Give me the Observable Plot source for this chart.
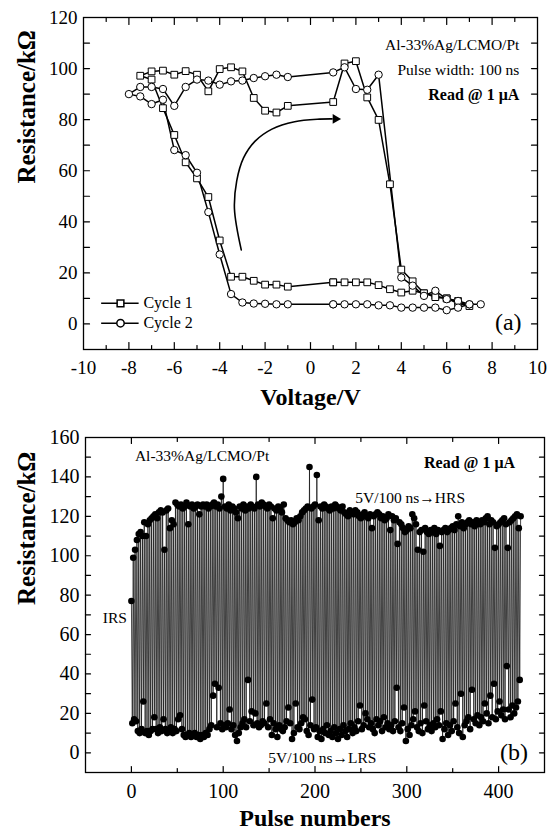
<!DOCTYPE html>
<html><head><meta charset="utf-8">
<script src="https://cdn.jsdelivr.net/npm/d3@7"></script>
<script src="https://cdn.jsdelivr.net/npm/@observablehq/plot@0.6"></script>
<style>
body{margin:0;background:#fff;}
#chart{width:555px;}
#chart svg{display:block;}
</style></head><body><div id="chart"></div>
<script>
// ---------- Panel (a): R–V hysteresis ----------
const cycle1V = [1, -1, -1.5, -2, -2.5, -3, -3.5, -4, -4.5, -5, -5.5, -6, -6.5, -7, -7.5, -7, -6.5, -6, -5.5, -5, -4.5, -4, -3.5, -3, -2.5, -2, -1.5, -1, 1, 1.5, 2, 2.5, 3, 3.5, 4, 4.5, 5, 5.5, 6, 6.5, 7, 6.5, 6, 5.5, 5, 4.5, 4, 3.5, 3, 2.5, 2, 1.5, 1];
const cycle1R = [16.3, 14.6, 15.4, 15.4, 16.9, 18.5, 18.5, 32.7, 49.7, 57, 63.3, 74, 84.5, 95.7, 97.2, 98.9, 99.2, 97.6, 99.0, 97.6, 91.1, 99.8, 100.5, 98.9, 88.5, 83.5, 82.8, 85.4, 86.9, 102, 102.9, 88.7, 79.9, 54.7, 21.3, 16.7, 12, 11, 10, 9, 7, 8, 10, 10.5, 12, 13, 12.3, 13.6, 15.2, 16.3, 16.3, 16.3, 16.3];
const cycle2V = [1, -1, -1.5, -2, -2.5, -3, -3.5, -4, -4.5, -5, -5.5, -6, -6.5, -7, -7.5, -8, -7.5, -7, -6.5, -6, -5.5, -5, -4.5, -4, -3.5, -3, -2.5, -2, -1.5, -1, 1, 1.5, 2, 2.5, 3, 4, 4.5, 5, 5.5, 6, 6.5, 7, 7.5, 7, 6.5, 6, 5.5, 5, 4.5, 4, 3.5, 3, 2.5, 2, 1.5, 1];
const cycle2R = [7.7, 7.7, 7.7, 7.9, 8.0, 8.4, 11.7, 27.2, 43.8, 59.2, 66.1, 68.1, 87.8, 86.1, 89.1, 90.0, 92.8, 92.8, 92, 85.4, 92.8, 95.7, 95.3, 93.7, 95.0, 95.3, 96.3, 97.0, 97.6, 96.7, 98.5, 100.5, 92, 91.7, 97.6, 18.2, 15, 11, 13, 9.7, 9, 7.7, 7.7, 7.7, 6.4, 5.4, 6.4, 6.4, 6.4, 6.4, 7.3, 7.3, 7.7, 7.7, 7.7, 7.7];
const arrowV = [-3.05, -3.35, -3.25, -2.95, -2.45, -1.7, -0.7, 0.4, 0.95];
const arrowR = [29, 45, 56, 65, 71.5, 76.3, 79.2, 80.2, 80.3];
const arrowTipV = [1.1];
const arrowTipR = [80.3];
const legendLabels = ["Cycle 1", "Cycle 2"];
const legendR = [8.1, 0.3];
const xLabelsA = [-10, -8, -6, -4, -2, 0, 2, 4, 6, 8, 10];
const xMajorA = [-8, -6, -4, -2, 0, 2, 4, 6, 8];
const xMinorA = [-9, -7, -5, -3, -1, 1, 3, 5, 7, 9];
const yLabelsA = [0, 20, 40, 60, 80, 100, 120];
const yTickA = [0, 10, 20, 30, 40, 50, 60, 70, 80, 90, 100, 110];

// ---------- Panel (b): pulse switching ----------
const irsValue = 77;
const hrsValues = [
  99, 103, 108, 111, 112, 110, 117, 110, 116, 118,
  119, 120, 121, 119, 122, 123, 122, 103, 123, 124,
  114, 118, 116, 127, 126, 125, 126, 124, 125, 127,
  116, 125, 126, 124, 125, 126, 121, 125, 126, 125,
  126, 124, 125, 126, 127, 125, 126, 124, 130, 139,
  125, 124, 126, 123, 125, 124, 122, 119, 125, 124,
  126, 123, 125, 124, 126, 125, 124, 140, 126, 125,
  127, 126, 125, 124, 126, 125, 119, 124, 123, 125,
  124, 122, 126, 119, 118, 117, 118, 116, 117, 119,
  118, 120, 122, 123, 124, 125, 145, 124, 125, 126,
  141, 118, 125, 124, 126, 125, 124, 123, 125, 124,
  126, 125, 124, 123, 125, 122, 121, 120, 123, 122,
  121, 123, 122, 120, 119, 121, 122, 120, 119, 121,
  114, 120, 121, 122, 121, 119, 120, 118, 119, 121,
  113, 120, 118, 119, 106, 117, 116, 114, 112, 113,
  115, 114, 121, 119, 116, 103, 112, 113, 102, 114,
  112, 111, 113, 112, 114, 111, 113, 105, 112, 113,
  114, 112, 113, 114, 115, 113, 116, 120, 115, 117,
  114, 116, 117, 118, 116, 117, 115, 118, 117, 116,
  118, 117, 119, 120, 116, 118, 117, 104, 115, 116,
  117, 118, 119, 116, 104, 117, 118, 119, 120, 121,
  114, 120
];
const lrsValues = [
  15, 17, 16, 11, 10, 12, 26, 10, 11, 9,
  11, 12, 18, 12, 10, 13, 11, 17, 12, 10,
  11, 13, 10, 12, 11, 17, 19, 12, 9, 8,
  9, 10, 8, 9, 10, 8, 9, 7, 9, 8,
  10, 9, 12, 14, 29, 35, 13, 33, 15, 12,
  14, 13, 15, 22, 12, 14, 9, 6, 10, 13,
  15, 17, 13, 37, 16, 21, 14, 20, 15, 13,
  14, 16, 15, 25, 13, 17, 9, 15, 12, 8,
  14, 12, 11, 13, 16, 23, 15, 7, 10, 25,
  13, 12, 15, 18, 17, 11, 9, 14, 27, 12,
  13, 8, 11, 7, 12, 10, 14, 9, 11, 8,
  13, 10, 7, 12, 9, 14, 11, 8, 12, 15,
  10, 13, 11, 16, 24, 12, 14, 20, 17, 13,
  15, 12, 10, 17, 14, 16, 11, 18, 13, 15,
  12, 14, 11, 16, 33, 13, 11, 15, 23, 6,
  12, 9, 14, 17, 21, 13, 11, 15, 10, 24,
  16, 12, 14, 11, 15, 13, 17, 14, 21, 7,
  12, 15, 9, 14, 11, 16, 25, 13, 10, 30,
  8, 14, 16, 18, 12, 32, 17, 15, 19, 14,
  18, 16, 25, 20, 15, 29, 18, 35, 17, 21,
  26, 19, 22, 17, 44, 22, 18, 24, 20, 23,
  26, 37
];
const xLabelsB = [0, 100, 200, 300, 400];
const xMajorB = [0, 100, 200, 300, 400];
const xMinorB = [50, 150, 250, 350];
const yLabelsB = [0, 20, 40, 60, 80, 100, 120, 140, 160];
const yTickB = [0, 10, 20, 30, 40, 50, 60, 70, 80, 90, 100, 110, 120, 130, 140, 150];

// ---------- helpers ----------
const FONT = "'Liberation Serif', 'Times New Roman', serif";
const tickShape = {draw(ctx, l) { ctx.moveTo(0, 0); ctx.lineTo(0, -l); }};
function xInTicks(values, len) {
  return [
    Plot.vector(values, {x: d => d, frameAnchor: "bottom", length: len, rotate: 0, anchor: "start", shape: tickShape, strokeWidth: 1.2}),
    Plot.vector(values, {x: d => d, frameAnchor: "top", length: len, rotate: 180, anchor: "start", shape: tickShape, strokeWidth: 1.2})
  ];
}
function yInTicks(values, len) {
  return [
    Plot.vector(values, {y: d => d, frameAnchor: "left", length: len, rotate: 90, anchor: "start", shape: tickShape, strokeWidth: 1.2}),
    Plot.vector(values, {y: d => d, frameAnchor: "right", length: len, rotate: -90, anchor: "start", shape: tickShape, strokeWidth: 1.2})
  ];
}
const zip = (a, b) => a.map((v, i) => ({x: v, y: b[i]}));

const c1 = zip(cycle1V, cycle1R);
const c2 = zip(cycle2V, cycle2R);
const arc = zip(arrowV, arrowR);
const tip = zip(arrowTipV, arrowTipR);
const legend = legendLabels.map((l, i) => ({label: l, y: legendR[i]}));

const plotA = Plot.plot({
  width: 555, height: 415,
  marginLeft: 83, marginRight: 18, marginTop: 17, marginBottom: 66,
  style: {fontFamily: FONT, fontSize: "19px", color: "black", background: "white", overflow: "visible"},
  x: {domain: [-10, 10]},
  y: {domain: [-10, 120]},
  marks: [
    Plot.frame({strokeWidth: 1.3}),
    ...xInTicks(xMajorA, 7),
    ...xInTicks(xMinorA, 4),
    ...yInTicks(yTickA, 6),
    Plot.axisX(xLabelsA, {anchor: "bottom", tickSize: 0, tickPadding: 11, tickFormat: d => String(d), fontSize: 19, label: null}),
    Plot.axisY(yLabelsA, {anchor: "left", tickSize: 0, tickPadding: 6, tickFormat: d => String(d), fontSize: 19, label: null}),
    Plot.line(c1, {x: "x", y: "y", stroke: "black", strokeWidth: 1.5}),
    Plot.line(c2, {x: "x", y: "y", stroke: "black", strokeWidth: 1.5}),
    Plot.dot(c1, {x: "x", y: "y", symbol: "square", r: 3.8, fill: "white", stroke: "black", strokeWidth: 1}),
    Plot.dot(c2, {x: "x", y: "y", symbol: "circle", r: 3.7, fill: "white", stroke: "black", strokeWidth: 1}),
    Plot.line(arc, {x: "x", y: "y", curve: "catmull-rom", stroke: "black", strokeWidth: 1.6}),
    Plot.dot(tip, {x: "x", y: "y", symbol: "triangle", rotate: 90, r: 3.6, fill: "black", stroke: "none"}),
    // legend
    Plot.ruleY(legend, {y: "y", x1: -9.2, x2: -7.55, stroke: "black", strokeWidth: 1.5}),
    Plot.dot(legend.slice(0, 1), {x: -8.37, y: "y", symbol: "square", r: 3.8, fill: "white", stroke: "black"}),
    Plot.dot(legend.slice(1, 2), {x: -8.37, y: "y", symbol: "circle", r: 3.7, fill: "white", stroke: "black"}),
    Plot.text(legend, {x: -7.36, y: "y", text: "label", textAnchor: "start", fontSize: 16}),
    // annotations
    Plot.text(["Al-33%Ag/LCMO/Pt"], {x: 9.2, y: 109.4, textAnchor: "end", fontSize: 15.5}),
    Plot.text(["Pulse width: 100 ns"], {x: 9.2, y: 99.6, textAnchor: "end", fontSize: 15.5}),
    Plot.text(["Read @ 1 \u03bcA"], {x: 9.2, y: 89.8, textAnchor: "end", fontSize: 16, fontWeight: "bold"}),
    Plot.text(["(a)"], {x: 9.3, y: 0.5, textAnchor: "end", fontSize: 24}),
    // axis titles
    Plot.text(["Voltage/V"], {frameAnchor: "bottom", lineAnchor: "bottom", dy: 55, fontSize: 24, fontWeight: "bold"}),
    Plot.text(["Resistance/k\u03a9"], {frameAnchor: "left", lineAnchor: "bottom", rotate: -90, dx: -49, fontSize: 25, fontWeight: "bold"})
  ]
});

const pulses = [{p: 0, r: irsValue}];
lrsValues.forEach((v, i) => {
  pulses.push({p: 2 * i + 1, r: v});
  pulses.push({p: 2 * i + 2, r: hrsValues[i]});
});

const plotB = Plot.plot({
  width: 555, height: 417,
  marginLeft: 85, marginRight: 11, marginTop: 22, marginBottom: 60,
  style: {fontFamily: FONT, fontSize: "20px", color: "black", background: "white", overflow: "visible"},
  x: {domain: [-50, 450]},
  y: {domain: [-10, 160]},
  marks: [
    Plot.frame({strokeWidth: 1.3}),
    ...xInTicks(xMajorB, 6),
    ...xInTicks(xMinorB, 4),
    ...yInTicks(yTickB, 5),
    Plot.axisX(xLabelsB, {anchor: "bottom", tickSize: 0, tickPadding: 11, tickFormat: d => String(d), fontSize: 20, label: null}),
    Plot.axisY(yLabelsB, {anchor: "left", tickSize: 0, tickPadding: 6, tickFormat: d => String(d), fontSize: 20, label: null}),
    Plot.line(pulses, {x: "p", y: "r", stroke: "#1a1a1a", strokeWidth: 0.8}),
    Plot.dot(pulses, {x: "p", y: "r", r: 3.3, fill: "black"}),
    Plot.text(["Al-33%Ag/LCMO/Pt"], {x: 77, y: 150.4, textAnchor: "middle", fontSize: 15.5}),
    Plot.text(["Read @ 1 \u03bcA"], {x: 418, y: 147.3, textAnchor: "end", fontSize: 16, fontWeight: "bold"}),
    Plot.text(["5V/100 ns\u2192HRS"], {x: 303.6, y: 129.1, textAnchor: "middle", fontSize: 15.5}),
    Plot.text(["IRS"], {x: -18, y: 68.4, textAnchor: "middle", fontSize: 15.5}),
    Plot.text(["5V/100 ns\u2192LRS"], {x: 208, y: -2.5, textAnchor: "middle", fontSize: 15.5}),
    Plot.text(["(b)"], {x: 432, y: 0, textAnchor: "end", fontSize: 24}),
    Plot.text(["Pulse numbers"], {frameAnchor: "bottom", lineAnchor: "bottom", dy: 53, fontSize: 24, fontWeight: "bold"}),
    Plot.text(["Resistance/k\u03a9"], {frameAnchor: "left", lineAnchor: "bottom", rotate: -90, dx: -51, fontSize: 25, fontWeight: "bold"})
  ]
});

document.getElementById("chart").append(plotA, plotB);
</script></body></html>
